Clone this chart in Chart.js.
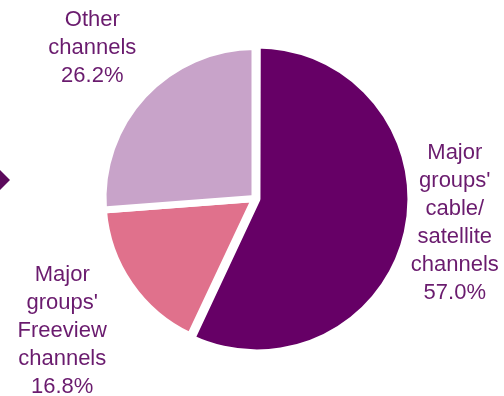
<!DOCTYPE html>
<html>
<head>
<meta charset="utf-8">
<script src="https://cdn.jsdelivr.net/npm/chart.js@4"></script>
<style>
  html, body { margin: 0; padding: 0; background: #ffffff; }
  #wrap { width: 504px; height: 396px; position: relative; }
</style>
</head>
<body>
<div id="wrap"><canvas id="PieChart" width="504" height="396"></canvas></div>
<script>
// chart values
const categories = [
    ["Major", "groups'", "cable/", "satellite", "channels"],
    ["Major", "groups'", "Freeview", "channels"],
    ["Other", "channels"]
];
const shares = [57.0, 16.8, 26.2];
const sliceColors = ["#660066", "#e0718c", "#c8a3c9"];
const sliceOffsets = [8, 0, 0];

// label placement (distance from centre in radii, plus a small nudge)
const labelDistance = [1.32, 1.54, 1.46];
const labelNudge = [[4, -19], [0, 0], [0, 0]];
const textColor = "#6a1b6e";
const lineHeight = 28;

const sliceLabels = {
    id: "sliceLabels",
    beforeDraw(chart) {
        // little purple pointer on the left edge
        const ctx = chart.ctx;
        ctx.save();
        ctx.fillStyle = "#5c0a5c";
        ctx.beginPath();
        ctx.moveTo(-3, 167);
        ctx.lineTo(10, 180);
        ctx.lineTo(-3, 193);
        ctx.closePath();
        ctx.fill();
        ctx.restore();
    },
    afterDatasetsDraw(chart) {
        const ctx = chart.ctx;
        const meta = chart.getDatasetMeta(0);
        ctx.save();
        ctx.fillStyle = textColor;
        ctx.font = "22px 'Liberation Sans', Arial, sans-serif";
        ctx.textAlign = "center";
        ctx.textBaseline = "middle";
        meta.data.forEach((arc, i) => {
            const p = arc.getProps(["x", "y", "startAngle", "endAngle", "outerRadius"], true);
            const mid = (p.startAngle + p.endAngle) / 2;
            const d = p.outerRadius * labelDistance[i];
            const cx = p.x + Math.cos(mid) * d + labelNudge[i][0];
            const cy = p.y + Math.sin(mid) * d + labelNudge[i][1];
            const lines = categories[i].concat([shares[i].toFixed(1) + "%"]);
            lines.forEach((line, j) => {
                ctx.fillText(line, cx, cy + (j - (lines.length - 1) / 2) * lineHeight);
            });
        });
        ctx.restore();
    }
};

var canvasElement = document.getElementById("PieChart");
var config = {
    type: "pie",
    data: {
        labels: categories.map(c => c.join(" ")),
        datasets: [{
            data: shares,
            backgroundColor: sliceColors,
            borderColor: "#ffffff",
            borderWidth: 7,
            offset: sliceOffsets,
            hoverOffset: 0
        }]
    },
    options: {
        responsive: false,
        animation: false,
        radius: 152,
        layout: {
            padding: { left: 6, top: 1, right: 0, bottom: 0 }
        },
        plugins: {
            legend: { display: false },
            tooltip: { enabled: false }
        }
    },
    plugins: [sliceLabels]
};
var pie = new Chart(canvasElement, config);
</script>
</body>
</html>
